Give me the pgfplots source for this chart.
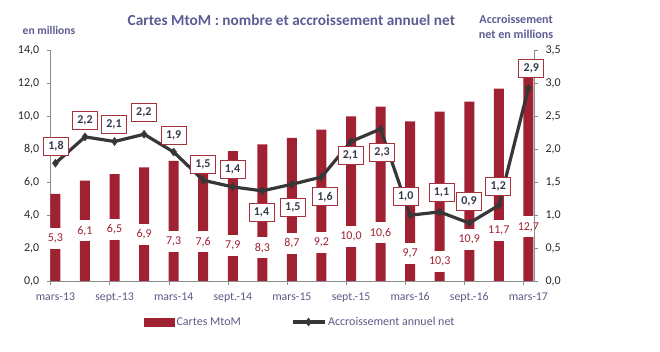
\documentclass[border=0pt]{standalone}
\usepackage{fontspec}
\setmainfont{Carlito}
\usepackage{pgfplots}
\usepackage{pgfplotstable}
\pgfplotsset{compat=1.18}
\definecolor{barred}{RGB}{160,34,50}
\definecolor{linegray}{RGB}{55,55,55}
\definecolor{titlecol}{RGB}{92,92,148}
\definecolor{xlabcol}{RGB}{90,90,135}
\definecolor{ylabcol}{RGB}{40,40,40}
\definecolor{axisgray}{RGB}{140,140,140}
\definecolor{boxred}{RGB}{165,50,60}
\definecolor{labtext}{RGB}{55,60,75}
\pgfplotsset{mylinelegend/.style={legend image code/.code={\draw[mark repeat=2,mark phase=2,##1] plot coordinates {(0pt,0pt) (16pt,0pt) (32pt,0pt)};}}}

\pgfplotstableread{
x y ly lab
0 5.3 2.59 5,3
1 6.1 3.05 6,1
2 6.5 3.13 6,5
3 6.9 2.85 6,9
4 7.3 2.42 7,3
5 7.6 2.38 7,6
6 7.9 2.18 7,9
7 8.3 2.02 8,3
8 8.7 2.28 8,7
9 9.2 2.32 9,2
10 10.0 2.73 10,0
11 10.6 2.93 10,6
12 9.7 1.68 9,7
13 10.3 1.17 10,3
14 10.9 2.53 10,9
15 11.7 3.05 11,7
16 12.7 3.29 12,7
}\bars

\pgfplotstableread{
x y
0 1.79
1 2.19
2 2.12
3 2.23
4 1.96
5 1.53
6 1.43
7 1.37
8 1.47
9 1.58
10 2.12
11 2.31
12 1.00
13 1.05
14 0.88
15 1.15
16 2.93
}\growth

\pgfplotstableread{
x y lab
0.02 2.05 1,8
1.0 2.44 2,2
1.98 2.38 2,1
2.99 2.56 2,2
4.0 2.21 1,9
4.99 1.77 1,5
5.99 1.69 1,4
6.97 1.04 1,4
8.03 1.12 1,5
9.12 1.28 1,6
9.98 1.91 2,1
11.05 1.95 2,3
11.85 1.29 1,0
13.06 1.34 1,1
13.99 1.21 0,9
14.98 1.44 1,2
16.1 3.23 2,9
}\growthlab

\begin{document}
\begin{tikzpicture}
\useasboundingbox (-50.7pt,-71pt) rectangle (609.3pt,281pt);
\pgfplotsset{
  common/.style={
    at={(0pt,0pt)}, anchor=south west,
    scale only axis, width=483.3pt, height=230.3pt,
    xmin=-0.16, xmax=16.19, clip=false,
    axis line style={draw=axisgray, line width=0.8pt, -},
    tick align=outside, major tick length=4pt,
    tick style={draw=axisgray, line width=0.8pt},
    /pgf/number format/.cd, fixed, fixed zerofill, precision=1, use comma, assume math mode=true,
  }
}
\begin{axis}[common,
  axis x line*=bottom, axis y line*=left,
  xtick pos=bottom, ytick pos=left,
  ymin=0, ymax=14, ytick={0,2,...,14},
  xtick={-0.16,1.84,3.84,5.84,7.84,9.84,11.84,13.84,15.84},
  xticklabels={mars-13,sept.-13,mars-14,sept.-14,mars-15,sept.-15,mars-16,sept.-16,mars-17},
  x tick label style={xshift=4.7pt, yshift=-4pt, text=xlabcol, font=\fontsize{11.8}{12}\selectfont},
  y tick label style={xshift=-4pt, text=ylabcol, font=\fontsize{12}{12}\selectfont},
]
\addplot[ybar, bar width=10pt, bar shift=0pt, fill=barred, draw=none] table[x=x, y=y] {\bars};
\addplot[draw=none, mark=none, nodes near coords, point meta=explicit symbolic,
  every node near coord/.append style={anchor=center, fill=white, text=barred,
  font=\fontsize{12}{12}\selectfont, minimum height=21pt, inner xsep=1.5pt, inner ysep=0pt}]
  table[x=x, y=ly, meta=lab] {\bars};
\node[font=\bfseries\fontsize{15.3}{16}\selectfont, text=titlecol] at (rel axis cs:0.498,1) [yshift=30.7pt] {Cartes MtoM : nombre et accroissement annuel net};
\node[font=\bfseries\fontsize{11.6}{12}\selectfont, text=titlecol] at (rel axis cs:0,1) [xshift=-1.7pt, yshift=20.7pt] {en millions};
\node[font=\bfseries\fontsize{12.1}{15}\selectfont, text=titlecol, align=center] at (rel axis cs:0.963,1) [yshift=24.2pt] {Accroissement\\net en millions};
\end{axis}
\begin{axis}[common,
  axis x line=none, axis y line*=right, ytick pos=right,
  ymin=0, ymax=3.5, ytick={0,0.5,...,3.5},
  y tick label style={xshift=4pt, text=ylabcol, font=\fontsize{12}{12}\selectfont},
  legend columns=2,
  legend style={at={(0.193,-0.178)}, anchor=west, draw=none, fill=none, inner sep=0pt,
    font=\fontsize{12}{12}\selectfont, text=xlabcol,
    /tikz/every even column/.append style={column sep=48pt},
    nodes={inner xsep=2pt}},
]
\addlegendimage{legend image code/.code={\fill[barred] (0pt,-4pt) rectangle (30pt,4pt);}}
\addlegendentry{Cartes MtoM}
\addplot[color=linegray, line width=3.2pt, mark=diamond*, mark size=4pt,
  mark options={line width=0.5pt}, mylinelegend]
  table[x=x, y=y] {\growth};
\addlegendentry{Accroissement annuel net}
\addplot[forget plot, draw=none, mark=none, nodes near coords, point meta=explicit symbolic,
  every node near coord/.append style={anchor=center, fill=white, draw=boxred, line width=0.8pt,
  text=labtext, font=\bfseries\fontsize{12}{12}\selectfont, minimum width=25pt, minimum height=18pt, inner sep=0pt}]
  table[x=x, y=y, meta=lab] {\growthlab};
\end{axis}
\end{tikzpicture}
\end{document}
